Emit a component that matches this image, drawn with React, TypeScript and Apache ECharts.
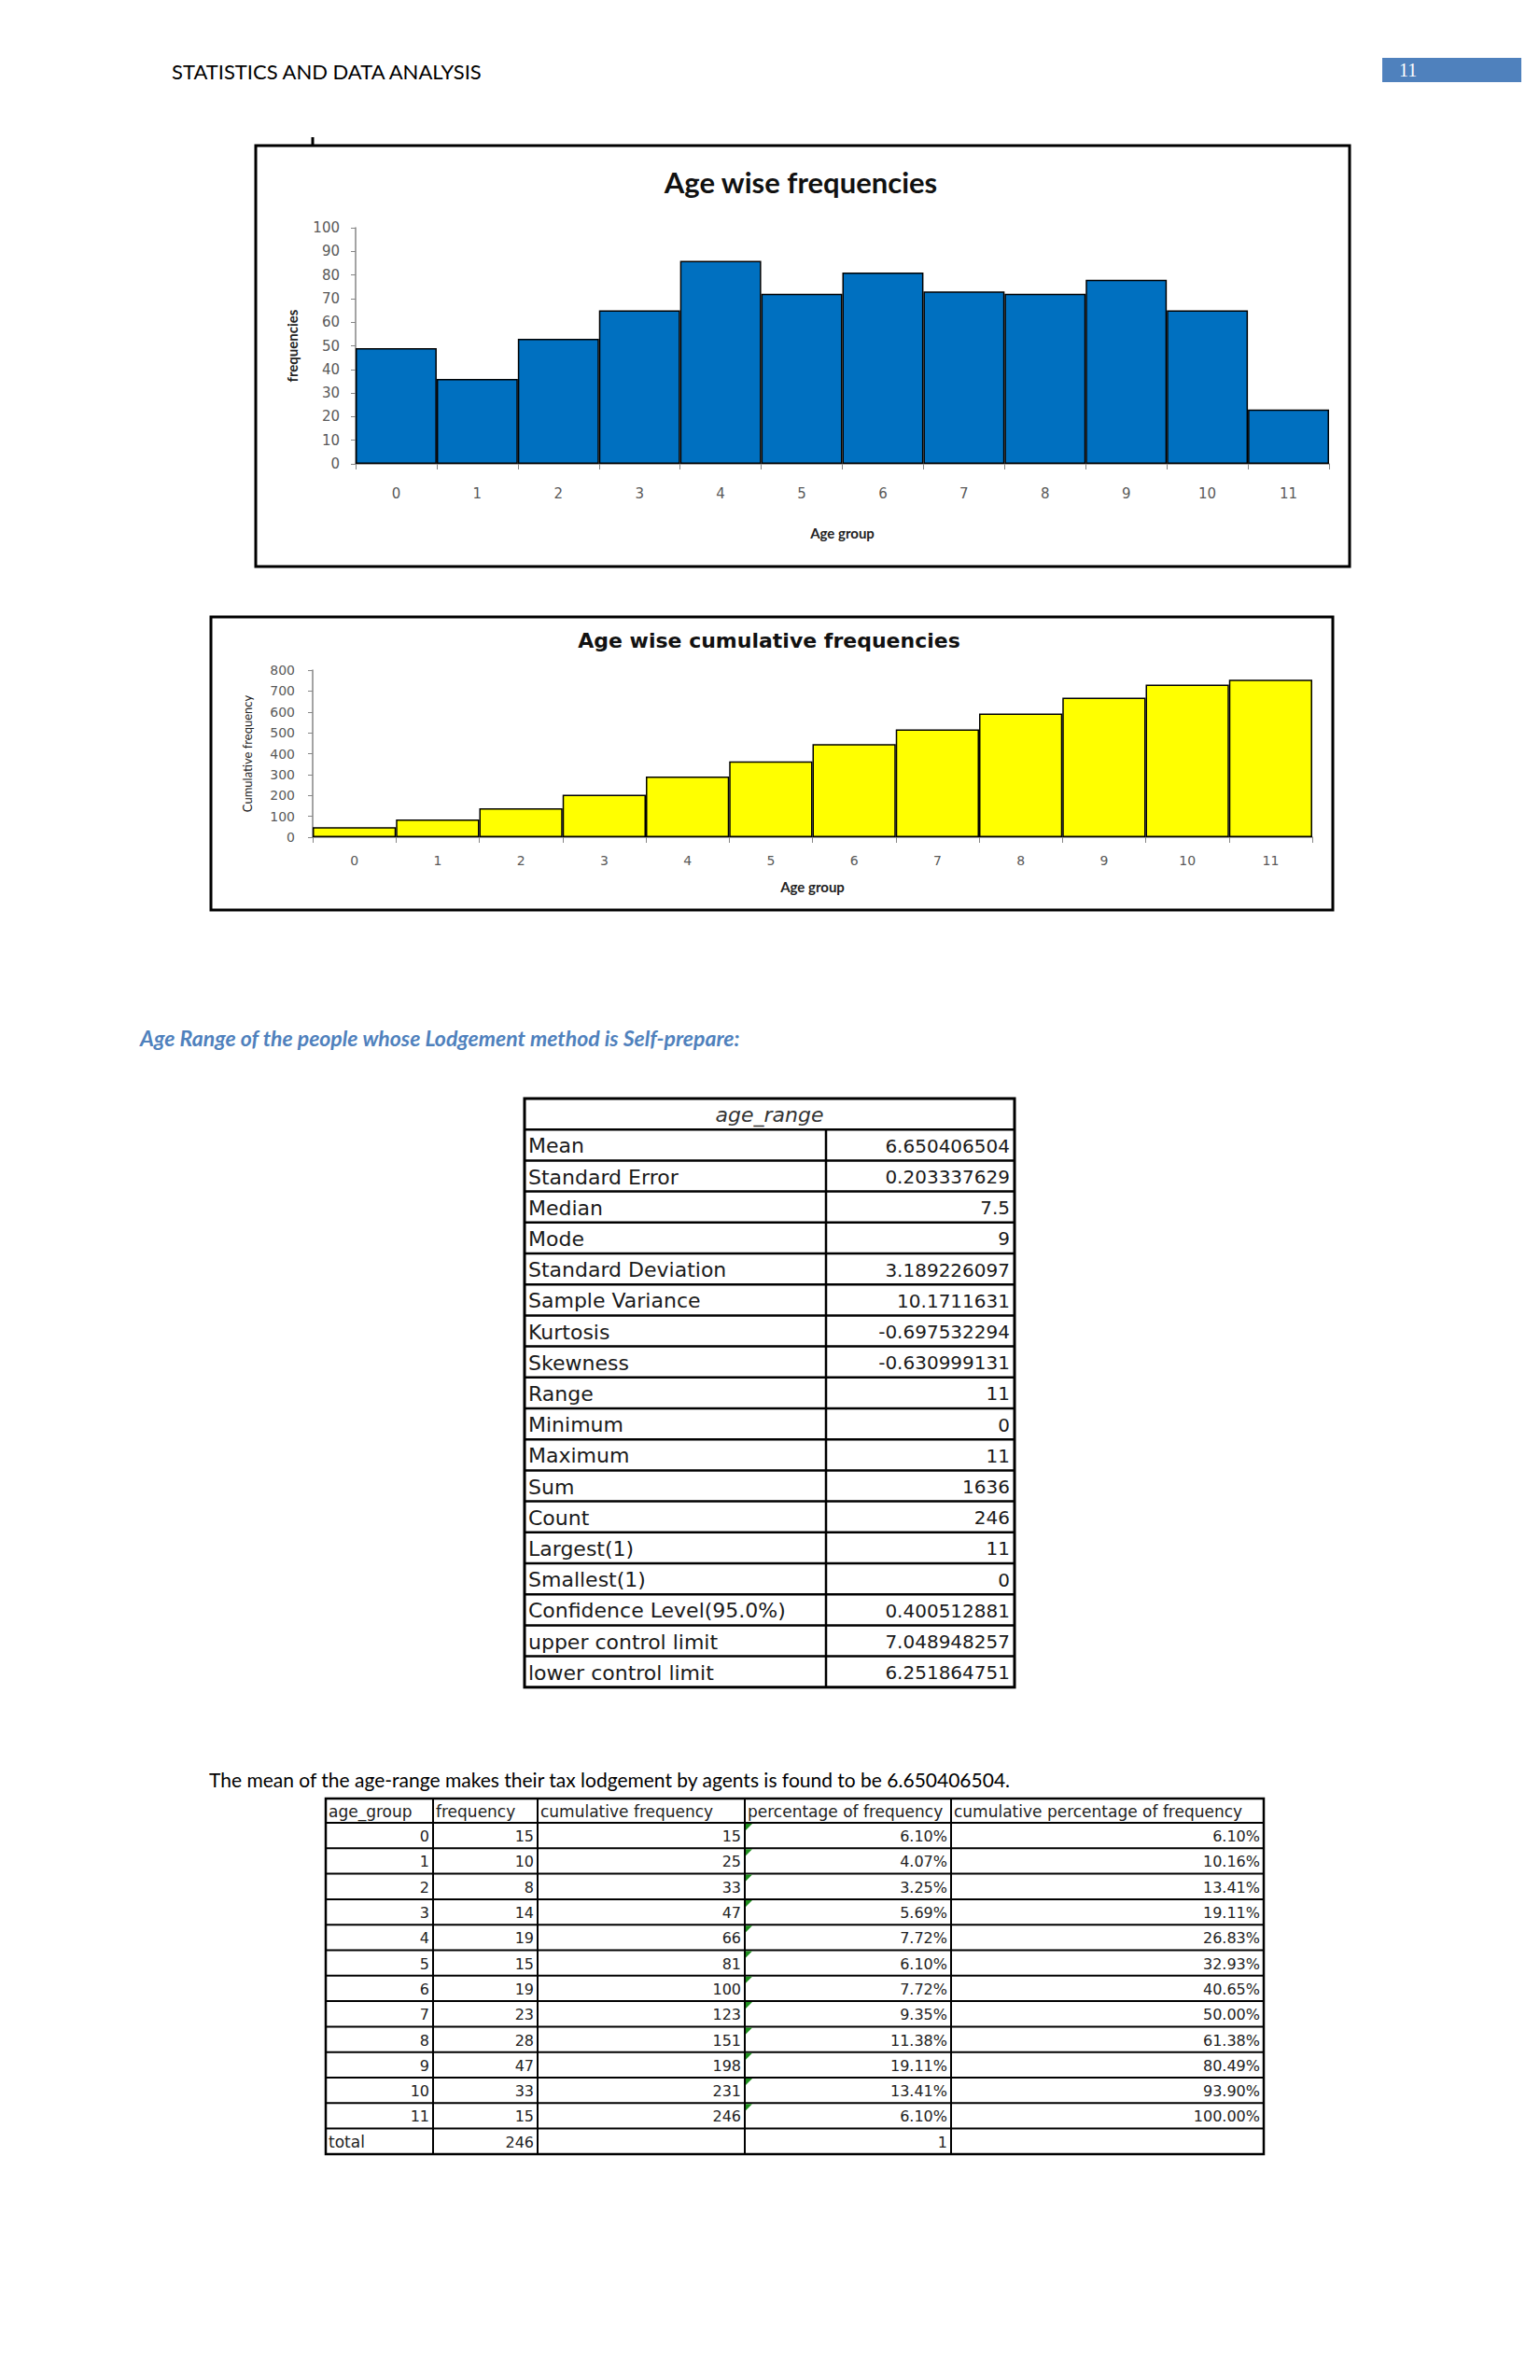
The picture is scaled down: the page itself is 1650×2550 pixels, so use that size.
import React, { useEffect, useRef } from "react";
import * as echarts from "echarts";

// ---------- data ----------
const ageGroups = ["0", "1", "2", "3", "4", "5", "6", "7", "8", "9", "10", "11"];
const ageFrequencies = [49, 36, 53, 65, 86, 72, 81, 73, 72, 78, 65, 23];
const cumulativeFrequencies = [48, 85, 139, 203, 291, 363, 446, 516, 592, 668, 731, 754];

const statLabels = [
  "Mean", "Standard Error", "Median", "Mode", "Standard Deviation", "Sample Variance",
  "Kurtosis", "Skewness", "Range", "Minimum", "Maximum", "Sum", "Count",
  "Largest(1)", "Smallest(1)", "Confidence Level(95.0%)", "upper control limit", "lower control limit",
];
const statValues = [
  "6.650406504", "0.203337629", "7.5", "9", "3.189226097", "10.1711631",
  "-0.697532294", "-0.630999131", "11", "0", "11", "1636", "246",
  "11", "0", "0.400512881", "7.048948257", "6.251864751",
];

const tableHeaders = ["age_group", "frequency", "cumulative frequency", "percentage of frequency", "cumulative percentage of frequency"];
const tableAgeGroups = ["0", "1", "2", "3", "4", "5", "6", "7", "8", "9", "10", "11"];
const tableFrequency = ["15", "10", "8", "14", "19", "15", "19", "23", "28", "47", "33", "15"];
const tableCumulative = ["15", "25", "33", "47", "66", "81", "100", "123", "151", "198", "231", "246"];
const tablePercent = ["6.10%", "4.07%", "3.25%", "5.69%", "7.72%", "6.10%", "7.72%", "9.35%", "11.38%", "19.11%", "13.41%", "6.10%"];
const tableCumPercent = ["6.10%", "10.16%", "13.41%", "19.11%", "26.83%", "32.93%", "40.65%", "50.00%", "61.38%", "80.49%", "93.90%", "100.00%"];
const tableTotalRow = ["total", "246", "", "1", ""];

// ---------- helpers ----------
function txt(x: number, y: number, text: string, o: any = {}) {
  return {
    type: "text",
    x,
    y,
    silent: true,
    style: {
      text,
      fill: o.fill || "#000",
      fontSize: o.size || 16,
      fontFamily: o.family || "DejaVu Sans",
      fontWeight: o.weight || "normal",
      fontStyle: o.style || "normal",
      textAlign: o.align || "left",
      align: o.align || "left",
      textVerticalAlign: "middle",
      verticalAlign: "middle",
    },
  };
}
function ln(x1: number, y1: number, x2: number, y2: number, w = 2, c = "#000") {
  return { type: "line", silent: true, shape: { x1, y1, x2, y2 }, style: { stroke: c, lineWidth: w } };
}
function box(x: number, y: number, w: number, h: number, lw = 3) {
  return { type: "rect", silent: true, shape: { x, y, width: w, height: h }, style: { fill: "none", stroke: "#000", lineWidth: lw } };
}

function buildStatsTable() {
  const els: any[] = [];
  const x0 = 562, x1 = 885, x2 = 1087;
  const top = 1177, rowH = 33.2;
  const n = statLabels.length + 1;
  const bottom = top + n * rowH;
  els.push(box(x0, top, x2 - x0, bottom - top, 3));
  for (let i = 1; i < n; i++) els.push(ln(x0, top + i * rowH, x2, top + i * rowH, 2.5));
  els.push(ln(x1, top + rowH, x1, bottom, 2.5));
  els.push(txt((x0 + x2) / 2, top + rowH / 2 + 1, "age_range", { size: 22, style: "italic", align: "center", fill: "#333" }));
  statLabels.forEach((lab, i) => {
    const cy = top + (i + 1) * rowH + rowH / 2 + 1;
    els.push(txt(x0 + 4, cy, lab, { size: 22, fill: "#1a1a1a" }));
    els.push(txt(x2 - 5, cy, statValues[i], { size: 20, align: "right", fill: "#1a1a1a" }));
  });
  return els;
}

function buildFreqTable() {
  const els: any[] = [];
  const cols = [349, 464, 576, 798, 1019, 1354];
  const top = 1927, headH = 26, rowH = 27.3;
  const nRows = tableAgeGroups.length + 1;
  const bottom = top + headH + nRows * rowH;
  els.push(box(cols[0], top, cols[5] - cols[0], bottom - top, 2.5));
  els.push(ln(cols[0], top + headH, cols[5], top + headH, 2));
  for (let i = 1; i < nRows; i++) els.push(ln(cols[0], top + headH + i * rowH, cols[5], top + headH + i * rowH, 2));
  for (let c = 1; c < 5; c++) els.push(ln(cols[c], top, cols[c], bottom, 2));
  tableHeaders.forEach((h, c) => {
    els.push(txt(cols[c] + 3, top + headH / 2 + 1, h, { size: 17, fill: "#222" }));
  });
  const rows = tableAgeGroups.map((a, i) => [a, tableFrequency[i], tableCumulative[i], tablePercent[i], tableCumPercent[i]]);
  rows.push(tableTotalRow);
  rows.forEach((r, i) => {
    const y0 = top + headH + i * rowH;
    const cy = y0 + rowH / 2 + 1;
    r.forEach((v, c) => {
      if (!v) return;
      if (v === "total") els.push(txt(cols[c] + 3, cy, v, { size: 17, fill: "#222" }));
      else els.push(txt(cols[c + 1] - 4, cy, v, { size: 16, align: "right", fill: "#222" }));
    });
    if (i < tableAgeGroups.length) {
      els.push({
        type: "polygon",
        silent: true,
        shape: { points: [[cols[3] + 1, y0 + 1], [cols[3] + 8, y0 + 1], [cols[3] + 1, y0 + 8]] },
        style: { fill: "#1f8f1f" },
      });
    }
  });
  return els;
}

export default function App() {
  const ref = useRef<HTMLDivElement>(null);
  useEffect(() => {
    if (!ref.current) return;
    const chart = echarts.init(ref.current, undefined, { renderer: "svg", width: 1650, height: 2550 });
    const axisGray = "#868686";
    const labelGray = "#595959";
    const graphic: any[] = [
      { type: "rect", silent: true, z: -10, shape: { x: 0, y: 0, width: 1650, height: 2550 }, style: { fill: "#fff" } },
      // page header
      txt(184, 76, "STATISTICS AND DATA ANALYSIS", { size: 22, family: "Lato", fill: "#000" }),
      { type: "rect", silent: true, shape: { x: 1481, y: 62, width: 149, height: 26 }, style: { fill: "#4F81BD" } },
      txt(1499, 75, "11", { size: 20, family: "Liberation Serif", fill: "#fff" }),
      // chart 1 frame
      ln(335, 147, 335, 156, 3),
      box(274, 156, 1172, 451, 3),
      txt(858, 195, "Age wise frequencies", { size: 31, family: "Lato", weight: "bold", align: "center", fill: "#111" }),
      // chart 2 frame
      box(226, 661, 1202, 314, 3),
      txt(824, 686, "Age wise cumulative frequencies", { size: 22, family: "DejaVu Sans", weight: "bold", align: "center", fill: "#111" }),
      // heading
      txt(150, 1112, "Age Range of the people whose Lodgement method is Self-prepare:", {
        size: 23, family: "Lato", weight: "bold", style: "italic", fill: "#4F81BD",
      }),
      // sentence
      txt(224, 1906, "The mean of the age-range makes their tax lodgement by agents is found to be 6.650406504.", {
        size: 21, family: "Lato", fill: "#000",
      }),
      ...buildStatsTable(),
      ...buildFreqTable(),
    ];

    chart.setOption({
      animation: false,
      backgroundColor: "#fff",
      grid: [
        { left: 381, top: 244, width: 1043, height: 253 },
        { left: 335, top: 718, width: 1071, height: 179 },
      ],
      xAxis: [
        {
          gridIndex: 0,
          type: "category",
          data: ageGroups,
          axisLine: { lineStyle: { color: axisGray, width: 1.5 } },
          axisTick: { show: true, length: 6, lineStyle: { color: axisGray } },
          axisLabel: { color: labelGray, fontSize: 15, fontFamily: "DejaVu Sans", margin: 24 },
          name: "Age group",
          nameLocation: "middle",
          nameGap: 66,
          nameTextStyle: { fontSize: 15, fontWeight: "bold", fontFamily: "Lato", color: "#222" },
        },
        {
          gridIndex: 1,
          type: "category",
          data: ageGroups,
          axisLine: { lineStyle: { color: axisGray, width: 1.5 } },
          axisTick: { show: true, length: 6, lineStyle: { color: axisGray } },
          axisLabel: { color: labelGray, fontSize: 14, fontFamily: "DejaVu Sans", margin: 18 },
          name: "Age group",
          nameLocation: "middle",
          nameGap: 45,
          nameTextStyle: { fontSize: 15, fontWeight: "bold", fontFamily: "Lato", color: "#222" },
        },
      ],
      yAxis: [
        {
          gridIndex: 0,
          type: "value",
          min: 0,
          max: 100,
          interval: 10,
          axisLine: { show: true, lineStyle: { color: axisGray, width: 1.5 } },
          axisTick: { show: true, length: 5, lineStyle: { color: axisGray } },
          splitLine: { show: false },
          axisLabel: { color: labelGray, fontSize: 15, fontFamily: "DejaVu Sans", margin: 17 },
          name: "frequencies",
          nameLocation: "middle",
          nameRotate: 90,
          nameGap: 61,
          nameTextStyle: { fontSize: 15, fontWeight: "bold", fontFamily: "Lato", color: "#222" },
        },
        {
          gridIndex: 1,
          type: "value",
          min: 0,
          max: 800,
          interval: 100,
          axisLine: { show: true, lineStyle: { color: axisGray, width: 1.5 } },
          axisTick: { show: true, length: 5, lineStyle: { color: axisGray } },
          splitLine: { show: false },
          axisLabel: { color: labelGray, fontSize: 14, fontFamily: "DejaVu Sans", margin: 19 },
          name: "Cumulative frequency",
          nameLocation: "middle",
          nameRotate: 90,
          nameGap: 64,
          nameTextStyle: { fontSize: 13, fontFamily: "Lato", color: "#222" },
        },
      ],
      series: [
        {
          type: "bar",
          xAxisIndex: 0,
          yAxisIndex: 0,
          data: ageFrequencies,
          barCategoryGap: 0,
          itemStyle: { color: "#0070C0", borderColor: "#000", borderWidth: 1.5 },
        },
        {
          type: "bar",
          xAxisIndex: 1,
          yAxisIndex: 1,
          data: cumulativeFrequencies,
          barCategoryGap: 0,
          itemStyle: { color: "#FFFF00", borderColor: "#000", borderWidth: 1.5 },
        },
      ],
      graphic,
    });
    return () => chart.dispose();
  }, []);
  return (
    <div
      ref={ref}
      style={{ position: "absolute", left: 0, top: 0, width: 1650, height: 2550, background: "#fff" }}
    />
  );
}
